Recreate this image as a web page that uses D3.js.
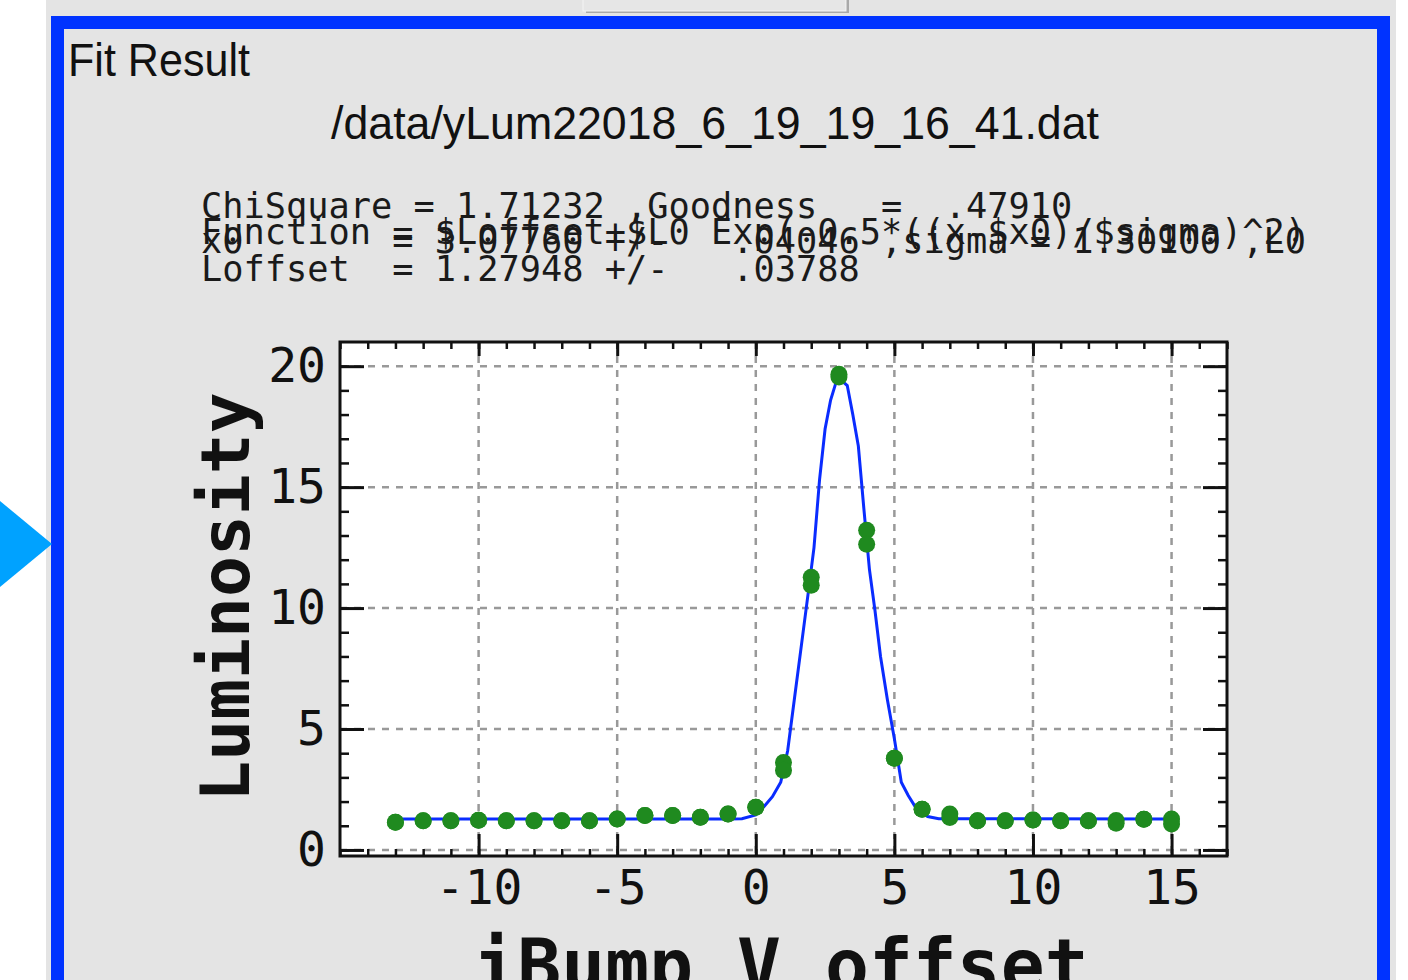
<!DOCTYPE html>
<html>
<head>
<meta charset="utf-8">
<script src="https://cdn.jsdelivr.net/npm/d3@7"></script>
<style>
  body { margin: 0; background: #fff; }
  svg { display: block; }
</style>
</head>
<body>
<svg id="fit" width="1408" height="980"></svg>
<script>
// bump scan data (two passes per offset point)
const offsets = [-13, -12, -11, -10, -9, -8, -7, -6, -5, -4, -3, -2, -1, 0, 1, 2, 3, 4, 5, 6, 7, 8, 9, 10, 11, 12, 13, 14, 15];
const lumScanA = [1.15, 1.21, 1.21, 1.23, 1.21, 1.21, 1.21, 1.21, 1.28, 1.42, 1.42, 1.35, 1.49, 1.77, 3.62, 11.27, 19.67, 13.22, 3.79, 1.68, 1.49, 1.21, 1.21, 1.24, 1.21, 1.21, 1.22, 1.27, 1.28];
const lumScanB = [1.15, 1.21, 1.21, 1.23, 1.21, 1.21, 1.21, 1.21, 1.28, 1.42, 1.42, 1.35, 1.49, 1.77, 3.29, 10.94, 19.55, 12.64, 3.79, 1.68, 1.34, 1.21, 1.21, 1.24, 1.21, 1.21, 1.10, 1.27, 1.07];

// fitted curve
const fitX = [-13, -1, -0.5, 0, 0.3, 0.6, 0.9, 1.15, 1.4, 1.65, 1.9, 2.1, 2.3, 2.5, 2.7, 2.9, 3.1, 3.3, 3.5, 3.7, 3.9, 4.1, 4.3, 4.5, 4.75, 5.0, 5.25, 5.5, 5.8, 6.2, 6.6, 15];
const fitY = [1.28, 1.28, 1.29, 1.45, 1.8, 2.2, 2.8, 4.1, 6.3, 8.5, 10.7, 12.5, 15.3, 17.4, 18.6, 19.35, 19.4, 19.2, 18.0, 16.7, 14.1, 11.6, 9.9, 8.0, 6.2, 4.6, 2.8, 2.25, 1.7, 1.38, 1.29, 1.28];

const xTicks = [-10, -5, 0, 5, 10, 15];
const yTicks = [0, 5, 10, 15, 20];

const fileName = '/data/yLum22018_6_19_19_16_41.dat';
const statLines = [
  'ChiSquare = 1.71232 ,Goodness   =  .47910',
  'Function = $Loffset+$L0 Exp(-0.5*((x-$x0)/$sigma)^2) (H',
  'x0       = 3.07760 +/-   .04046 ,sigma = 1.30100 ,L0 = 18.13797 47',
  'Loffset  = 1.27948 +/-   .03788'
];

const mono = "'DejaVu Sans Mono', monospace";
const sans = "'Liberation Sans', Arial, sans-serif";

const svg = d3.select('#fit');

// window chrome
svg.append('rect').attr('x', 46).attr('y', 0).attr('width', 1350).attr('height', 980).attr('fill', '#e4e4e4');
svg.append('rect').attr('x', 586).attr('y', -4).attr('width', 263).attr('height', 17).attr('fill', '#a9a9a9');
svg.append('rect').attr('x', 583).attr('y', -4).attr('width', 263).attr('height', 15).attr('fill', '#e6e6e6')
  .attr('stroke', '#f4f4f4').attr('stroke-width', 1);
svg.append('rect').attr('x', 57.5).attr('y', 22.5).attr('width', 1326).attr('height', 1000)
  .attr('fill', 'none').attr('stroke', '#0033ff').attr('stroke-width', 13);
svg.append('path').attr('d', 'M0,501L52,544L0,587Z').attr('fill', '#00a2ff');

// titles
svg.append('text').attr('x', 68).attr('y', 76)
  .attr('font-family', sans).attr('font-size', 46)
  .attr('textLength', 182).attr('lengthAdjust', 'spacingAndGlyphs')
  .attr('fill', '#111').text('Fit Result');

svg.append('text').attr('x', 331).attr('y', 139)
  .attr('font-family', sans).attr('font-size', 47)
  .attr('textLength', 768).attr('lengthAdjust', 'spacingAndGlyphs')
  .attr('fill', '#111').text(fileName);

// fit statistics - lines overlap like in the original dialog
svg.append('clipPath').attr('id', 'statClip')
  .append('rect').attr('x', 180).attr('y', 170).attr('width', 1133).attr('height', 130);

svg.append('g').attr('clip-path', 'url(#statClip)')
  .selectAll('text').data(statLines).join('text')
    .attr('x', 201)
    .attr('y', (d, i) => [218, 244, 253, 281][i])
    .attr('xml:space', 'preserve')
    .style('white-space', 'pre')
    .attr('font-family', mono).attr('font-size', 35.3)
    .attr('fill', '#1a1a1a')
    .text(d => d);

// plot
const xScale = d3.scaleLinear().domain([-15, 17]).range([340, 1227]);
const yScale = d3.scaleLinear().domain([-0.25, 21]).range([856, 342]);
const [x0, x1] = xScale.range();
const [y1, y0] = yScale.range();

svg.append('rect').attr('x', x0).attr('y', y0).attr('width', x1 - x0).attr('height', y1 - y0).attr('fill', '#fff');

const grid = svg.append('g').attr('stroke', '#999').attr('stroke-width', 2.5).attr('stroke-dasharray', '7,7');
grid.selectAll('.gx').data(xTicks).join('line').attr('class', 'gx')
  .attr('x1', d => xScale(d)).attr('x2', d => xScale(d)).attr('y1', y0).attr('y2', y1);
grid.selectAll('.gy').data(yTicks).join('line').attr('class', 'gy')
  .attr('y1', d => yScale(d)).attr('y2', d => yScale(d)).attr('x1', x0).attr('x2', x1);

// fit line
const fitPts = fitX.map((x, i) => [x, fitY[i]]);
svg.append('path').datum(fitPts)
  .attr('fill', 'none').attr('stroke', '#0a2cff').attr('stroke-width', 3)
  .attr('d', d3.line().x(d => xScale(d[0])).y(d => yScale(d[1])));

// data markers
const pts = offsets.flatMap((x, i) => [[x, lumScanA[i]], [x, lumScanB[i]]]);
svg.append('g').selectAll('circle').data(pts).join('circle')
  .attr('cx', d => xScale(d[0]))
  .attr('cy', d => yScale(d[1]))
  .attr('r', 8.5)
  .attr('fill', '#1f8a1f');

// axes, ticks pointing inwards
const minorX = d3.range(-15, 18);
const minorY = d3.range(0, 21);

const styleAxis = (g, w) => {
  g.select('.domain').remove();
  g.selectAll('line').attr('stroke', '#111').attr('stroke-width', w);
};

const addAxis = (axis, tx, ty, values, size, labels, w) => {
  const g = svg.append('g').attr('transform', `translate(${tx},${ty})`)
    .call(axis.tickValues(values).tickSize(size).tickPadding(labels ? 14 : 0).tickFormat(labels ? d => String(d) : ''));
  styleAxis(g, w);
  g.selectAll('text').attr('font-family', mono).attr('font-size', 48).attr('fill', '#111');
  return g;
};

addAxis(d3.axisBottom(xScale), 0, y1, minorX, -7, false, 2.5);
addAxis(d3.axisBottom(xScale), 0, y1, xTicks, -22, true, 3);
addAxis(d3.axisTop(xScale), 0, y0, minorX, -7, false, 2.5);
addAxis(d3.axisTop(xScale), 0, y0, xTicks, -14, false, 3);
addAxis(d3.axisLeft(yScale), x0, 0, minorY, -9, false, 2.5);
addAxis(d3.axisLeft(yScale), x0, 0, yTicks, -24, true, 3);
addAxis(d3.axisRight(yScale), x1, 0, minorY, -9, false, 2.5);
addAxis(d3.axisRight(yScale), x1, 0, yTicks, -24, false, 3);

svg.append('rect').attr('x', x0).attr('y', y0).attr('width', x1 - x0).attr('height', y1 - y0)
  .attr('fill', 'none').attr('stroke', '#111').attr('stroke-width', 3);

// axis titles
svg.append('text')
  .attr('transform', `translate(249,597) rotate(-90)`)
  .attr('text-anchor', 'middle')
  .attr('font-family', mono).attr('font-weight', 'bold').attr('font-size', 68)
  .attr('fill', '#111').text('Luminosity');

svg.append('text')
  .attr('x', 781).attr('y', 991)
  .attr('text-anchor', 'middle')
  .attr('font-family', mono).attr('font-weight', 'bold').attr('font-size', 73)
  .attr('fill', '#111').text('iBump V offset');
</script>
</body>
</html>
